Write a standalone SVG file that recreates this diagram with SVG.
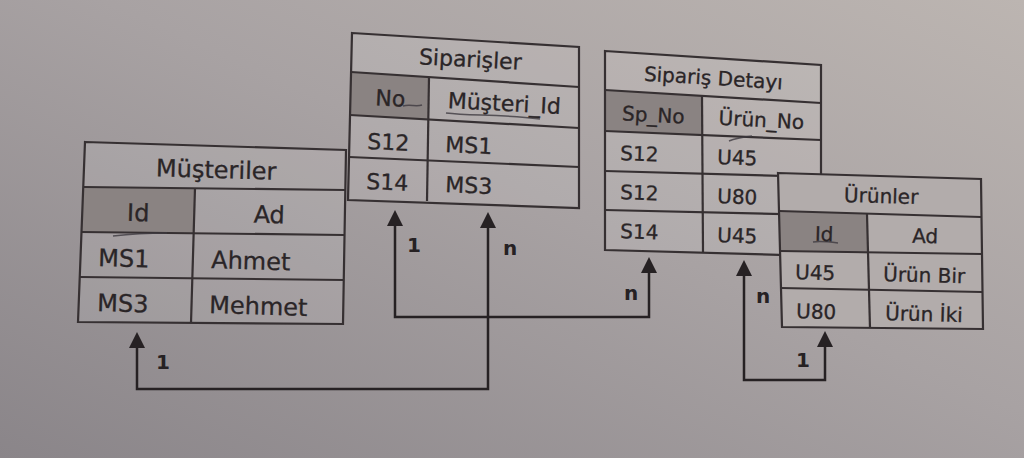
<svg xmlns="http://www.w3.org/2000/svg" width="1024" height="458" viewBox="0 0 1024 458">
<defs>
<linearGradient id="bg" x1="0" y1="1" x2="1" y2="0">
<stop offset="0" stop-color="#8a8589"/>
<stop offset="0.55" stop-color="#a8a2a3"/>
<stop offset="1" stop-color="#bcb5b1"/>
</linearGradient>
<marker id="arr" viewBox="0 0 16 16" refX="12" refY="8" markerWidth="16" markerHeight="16" markerUnits="userSpaceOnUse" orient="auto-start-reverse">
<path d="M0,0 L16,8 L0,16 z" fill="#262123"/>
</marker>
</defs>
<style>
.fill{fill:#ffffff;fill-opacity:0.1;stroke:none}
.ufill{fill:#b2acab;stroke:none}
.key{fill:#8a8382;stroke:none}
.ln{stroke:#363032;stroke-width:2.2;fill:none}
.t{font-family:"DejaVu Sans",Verdana,sans-serif;fill:#2a2527;stroke:#2a2527;stroke-width:0.3}
.m{text-anchor:middle}
.pen{stroke:#3d3a40;stroke-width:1.5;fill:none;opacity:0.8}
.c{stroke:#262123;stroke-width:2.5;fill:none;marker-start:url(#arr);marker-end:url(#arr)}
.lbl{font-family:"DejaVu Sans",Verdana,sans-serif;font-weight:bold;font-size:20px;fill:#262123;text-anchor:middle}
</style>
<rect x="0" y="0" width="1024" height="458" fill="url(#bg)"/>

<g id="connectors">
<path class="c" d="M137,336 V389 H488 V216"/>
<path class="c" d="M395,214 V317 H649 V261"/>
<path class="c" d="M744,264 V380 H825 V335"/>
<text class="lbl" x="163" y="369">1</text>
<text class="lbl" x="510" y="255">n</text>
<text class="lbl" x="414" y="252">1</text>
<text class="lbl" x="631" y="300">n</text>
<text class="lbl" x="763" y="303">n</text>
<text class="lbl" x="803" y="367">1</text>
</g>

<g id="musteriler">
<polygon class="fill" points="85,142 346,150 343,324 78,322"/>
<polygon class="key" points="84,187 195,188.5 193,233.5 81,232"/>
<polygon class="ln" points="85,142 346,150 343,324 78,322"/>
<line class="ln" x1="84" y1="187" x2="345" y2="190"/>
<line class="ln" x1="81" y1="232" x2="344" y2="235"/>
<line class="ln" x1="80" y1="277" x2="344" y2="280"/>
<line class="ln" x1="195" y1="188" x2="191" y2="323"/>
<path class="pen" d="M113,236 C130,234 150,233 167,233"/>
<g class="t" font-size="24">
<text class="m" x="216" y="178" transform="rotate(1.7 216 178)">Müşteriler</text>
<text class="m" x="138" y="221" transform="rotate(1.7 138 221)">Id</text>
<text class="m" x="269" y="223" transform="rotate(1.7 269 223)">Ad</text>
<text x="98" y="266" transform="rotate(1.7 98 266)">MS1</text>
<text x="211" y="268" transform="rotate(1.7 211 268)">Ahmet</text>
<text x="97" y="311" transform="rotate(1.7 97 311)">MS3</text>
<text x="209" y="313" transform="rotate(1.7 209 313)">Mehmet</text>
</g>
</g>

<g id="siparisler">
<polygon class="fill" points="352,33 579,47 579,208 348,200"/>
<polygon class="key" points="351,72 429,77 429,119.5 350,115"/>
<polygon class="ln" points="352,33 579,47 579,208 348,200"/>
<line class="ln" x1="351" y1="72" x2="579" y2="87"/>
<line class="ln" x1="350" y1="115" x2="579" y2="128"/>
<line class="ln" x1="349" y1="157" x2="579" y2="167"/>
<line class="ln" x1="429" y1="77" x2="427" y2="201"/>
<path class="pen" d="M403,106 C410,104 416,107 422,105"/>
<path class="pen" d="M446,113 C470,116 500,114 540,119"/>
<g class="t" font-size="22">
<text class="m" x="470" y="67" transform="rotate(3 470 67)">Siparişler</text>
<text class="m" x="390" y="106" transform="rotate(3 390 106)">No</text>
<text class="m" x="504" y="111" transform="rotate(3 504 111)">Müşteri_Id</text>
<text x="367" y="149" transform="rotate(2.5 367 149)">S12</text>
<text x="445" y="152" transform="rotate(2.5 445 152)">MS1</text>
<text x="366" y="189" transform="rotate(2.5 366 189)">S14</text>
<text x="445" y="192" transform="rotate(2.5 445 192)">MS3</text>
</g>
</g>

<g id="siparis-detayi">
<polygon class="fill" points="605,51 821,65 821,256 605,250"/>
<polygon class="key" points="605,90 702,96 702,135 605,131"/>
<polygon class="ln" points="605,51 821,65 821,256 605,250"/>
<line class="ln" x1="605" y1="90" x2="821" y2="103"/>
<line class="ln" x1="605" y1="131" x2="821" y2="140"/>
<line class="ln" x1="605" y1="171" x2="821" y2="177"/>
<line class="ln" x1="605" y1="210" x2="821" y2="215"/>
<line class="ln" x1="702" y1="96" x2="703" y2="252"/>
<path class="pen" d="M729,141 C736,138 744,137 752,136"/>
<g class="t" font-size="20">
<text class="m" x="713" y="85" transform="rotate(3.6 713 85)">Sipariş Detayı</text>
<text class="m" x="653" y="122" transform="rotate(3 653 122)">Sp_No</text>
<text class="m" x="761" y="127" transform="rotate(3 761 127)">Ürün_No</text>
<text x="620" y="160" transform="rotate(2 620 160)">S12</text>
<text x="717" y="164" transform="rotate(2 717 164)">U45</text>
<text x="620" y="199" transform="rotate(2 620 199)">S12</text>
<text x="717" y="203" transform="rotate(2 717 203)">U80</text>
<text x="620" y="238" transform="rotate(2 620 238)">S14</text>
<text x="717" y="242" transform="rotate(2 717 242)">U45</text>
</g>
</g>

<g id="urunler">
<polygon class="ufill" points="778,173 981,179 983,329 782,327"/>
<polygon class="key" points="779,211 867,213.6 867.5,253.3 780,251"/>
<polygon class="ln" points="778,173 981,179 983,329 782,327"/>
<line class="ln" x1="779" y1="211" x2="981" y2="217"/>
<line class="ln" x1="780" y1="251" x2="982" y2="254"/>
<line class="ln" x1="781" y1="288" x2="982" y2="292"/>
<line class="ln" x1="867" y1="214" x2="870" y2="328"/>
<path class="pen" d="M813,242 C820,241 830,242 838,243"/>
<g class="t" font-size="20">
<text class="m" x="881" y="203" transform="rotate(1.7 881 203)">Ürünler</text>
<text class="m" x="824" y="241" transform="rotate(1.5 824 241)">Id</text>
<text class="m" x="925" y="243" transform="rotate(1.5 925 243)">Ad</text>
<text x="795" y="279" transform="rotate(1.5 795 279)">U45</text>
<text x="883" y="281" transform="rotate(1.5 883 281)">Ürün Bir</text>
<text x="796" y="318" transform="rotate(1.5 796 318)">U80</text>
<text x="885" y="320" transform="rotate(1.5 885 320)">Ürün İki</text>
</g>
</g>
</svg>
